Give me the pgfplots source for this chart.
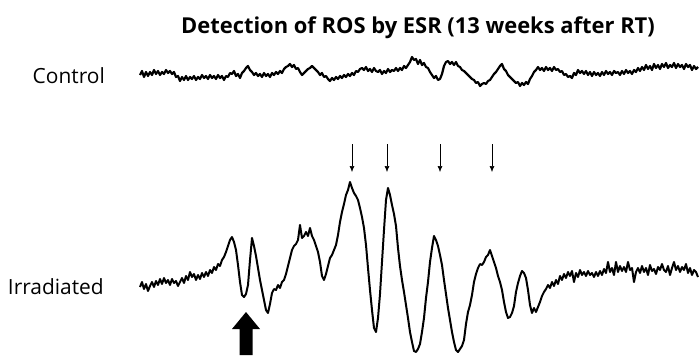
\documentclass[border=0pt]{standalone}
\usepackage{pgfplots}
\pgfplotsset{compat=1.18}
\usepackage{fontspec}
\setmainfont{Open Sans}
\usetikzlibrary{arrows.meta}
\begin{document}
\begin{tikzpicture}
\begin{axis}[scale only axis, width=700bp, height=359bp,
  xmin=0, xmax=700, ymin=0, ymax=359, y dir=reverse,
  hide axis, clip=false]
% Control trace
\addplot[black, line width=2.2pt, line join=round] coordinates {
(140,75)(142,71)(144,77)(146,72)(148,76)(150,72)(152,75)(154,70)(156,74)(158,71)(160,75)(162,72)(164,74)(166,70)(168,73)(170,71)(172,74)(174,72)(176,77)(178,76)(180,81)(182,77)(184,80)(186,76)(188,80)(190,77)(192,79)(194,76)(196,80)(198,77)(200,79)(202,75)(204,78)(206,76)(208,79)(210,75)(212,78)(214,76)(216,79)(218,75)(220,78)(222,76)(224,80)(226,76)(228,77)(230,73)(232,74)(234,71)(236,76)(238,74)(240,78)(242,73)(244,71)(246,68)(248,66)(250,70)(252,72)(254,75)(256,73)(258,76)(260,74)(262,77)(264,73)(266,76)(268,74)(270,77)(272,73)(274,75)(276,72)(278,74)(280,71)(282,73)(284,69)(286,67)(288,66)(290,64)(292,67)(294,65)(296,69)(298,68)(300,72)(302,75)(304,73)(306,71)(308,69)(310,68)(312,66)(314,68)(316,70)(318,72)(320,75)(322,73)(324,77)(326,76)(328,79)(330,81)(332,78)(334,80)(336,77)(338,79)(340,76)(342,78)(344,75)(346,77)(348,74)(350,76)(352,73)(354,75)(356,71)(358,72)(360,69)(362,68)(364,70)(366,67)(368,71)(370,69)(372,72)(374,68)(376,71)(378,72)(380,70)(382,74)(384,71)(386,73)(388,69)(390,72)(392,70)(394,71)(396,68)(398,71)(400,68)(402,70)(404,66)(406,68)(408,65)(410,62)(412,57)(414,60)(416,59)(418,64)(420,60)(422,65)(424,63)(426,67)(428,68)(430,72)(432,75)(434,78)(436,76)(438,80)(440,79)(442,74)(444,66)(446,62)(448,61)(450,64)(452,62)(454,65)(456,62)(458,66)(460,67)(462,70)(464,71)(466,73)(468,75)(470,77)(472,79)(474,80)(476,83)(478,82)(480,86)(482,84)(484,83)(486,84)(488,81)(490,80)(492,77)(494,74)(496,72)(498,69)(500,66)(502,64)(504,69)(506,71)(508,75)(510,77)(512,79)(514,81)(516,83)(518,82)(520,86)(522,83)(524,85)(526,82)(528,84)(530,79)(532,76)(534,72)(536,70)(538,67)(540,70)(542,68)(544,71)(546,67)(548,70)(550,68)(552,71)(554,67)(556,70)(558,69)(560,72)(562,71)(564,75)(566,74)(568,77)(570,76)(572,78)(574,73)(576,75)(578,70)(580,73)(582,71)(584,74)(586,71)(588,75)(590,72)(592,76)(594,72)(596,75)(598,73)(600,76)(602,72)(604,75)(606,71)(608,74)(610,72)(612,75)(614,71)(616,73)(618,72)(620,75)(622,71)(624,74)(626,70)(628,73)(630,71)(632,74)(634,70)(636,72)(638,68)(640,71)(642,67)(644,70)(646,65)(648,69)(650,66)(652,70)(654,64)(656,68)(658,65)(660,69)(662,64)(664,67)(666,63)(668,68)(670,65)(672,67)(674,63)(676,68)(678,64)(680,67)(682,65)(684,69)(686,64)(688,67)(690,65)(692,70)(694,66)(696,69)(698,67)
};
% Irradiated trace
\addplot[black, line width=2pt, line join=round] coordinates {
(140,287)(142,282)(144,289)(146,284)(148,291)(150,286)(152,282)(154,287)(156,281)(158,285)(160,279)(162,284)(164,278)(166,283)(168,280)(170,285)(172,279)(174,283)(176,281)(178,286)(180,282)(182,278)(184,283)(186,276)(188,280)(190,272)(192,277)(194,274)(196,280)(198,275)(200,279)(202,273)(204,277)(206,272)(208,276)(210,270)(212,273)(214,267)(216,270)(218,264)(220,266)(222,260)(224,257)(226,252)(228,246)(230,240)(232,237)(234,242)(236,250)(238,265)(240,282)(242,295)(244,297)(246,294)(248,285)(250,260)(252,238)(254,246)(256,256)(258,268)(260,280)(262,290)(264,300)(266,310)(268,313)(270,304)(272,293)(274,289)(276,290)(278,285)(280,288)(282,282)(284,280)(286,274)(288,266)(290,258)(292,250)(294,246)(296,244)(298,240)(300,225)(302,238)(304,236)(306,232)(308,236)(310,228)(312,236)(314,240)(316,246)(318,252)(320,262)(322,276)(324,280)(326,274)(328,266)(330,258)(332,255)(334,250)(336,245)(338,235)(340,222)(342,212)(344,204)(346,195)(348,190)(350,182)(352,188)(354,193)(356,196)(358,200)(360,208)(362,217)(364,228)(366,245)(368,268)(370,290)(372,310)(374,328)(376,332)(378,318)(380,294)(382,262)(384,230)(386,200)(388,188)(390,195)(392,205)(394,214)(396,226)(398,248)(400,266)(402,280)(404,292)(406,305)(408,318)(410,332)(412,342)(414,351)(416,352)(418,349)(420,344)(422,332)(424,318)(426,298)(428,282)(430,262)(432,248)(434,236)(436,240)(438,246)(440,255)(442,265)(444,280)(446,294)(448,308)(450,320)(452,332)(454,342)(456,350)(458,352)(460,349)(462,346)(464,340)(466,324)(468,312)(470,305)(472,295)(474,282)(476,274)(478,268)(480,264)(482,265)(484,262)(486,257)(488,255)(490,250)(492,256)(494,262)(496,268)(498,276)(500,282)(502,290)(504,302)(506,312)(508,318)(510,317)(512,313)(514,306)(516,292)(518,283)(520,276)(522,271)(524,273)(526,278)(528,290)(530,305)(532,313)(534,308)(536,312)(538,307)(540,302)(542,296)(544,292)(546,289)(548,285)(550,288)(552,282)(554,286)(556,280)(558,284)(560,276)(562,280)(564,274)(566,278)(568,272)(570,276)(572,271)(574,282)(576,273)(578,277)(580,270)(582,275)(584,272)(586,276)(588,271)(590,275)(592,273)(594,277)(596,272)(598,276)(600,271)(602,275)(604,269)(606,273)(608,262)(610,272)(612,268)(614,275)(616,262)(618,272)(620,266)(622,271)(624,267)(626,272)(628,262)(630,270)(632,268)(634,282)(636,272)(638,268)(640,273)(642,266)(644,272)(646,268)(648,275)(650,265)(652,271)(654,269)(656,274)(658,267)(660,270)(662,264)(664,270)(666,272)(668,266)(670,275)(672,268)(674,262)(676,270)(678,266)(680,272)(682,267)(684,270)(686,264)(688,273)(690,268)(692,275)(694,270)(696,272)(698,277)
};
% labels
\node[font=\bfseries\fontsize{22}{26}\selectfont, anchor=center] at (axis cs:418,28) {Detection of ROS by ESR (13 weeks after RT)};
\node[font=\fontsize{21}{24}\selectfont, anchor=east, inner sep=0pt] at (axis cs:105,76) {Control};
\node[font=\fontsize{21}{24}\selectfont, anchor=east, inner sep=0pt] at (axis cs:104,287) {Irradiated};
% small down arrows
\draw[black, line width=0.6pt, -{Latex[length=6pt,width=5pt]}] (axis cs:352,144) -- (axis cs:352,172);
\draw[black, line width=0.6pt, -{Latex[length=6pt,width=5pt]}] (axis cs:387,144) -- (axis cs:387,172);
\draw[black, line width=0.6pt, -{Latex[length=6pt,width=5pt]}] (axis cs:440,144) -- (axis cs:440,172);
\draw[black, line width=0.6pt, -{Latex[length=6pt,width=5pt]}] (axis cs:492,144) -- (axis cs:492,172);
% thick up arrow
\fill[black] (axis cs:239.5,355) -- (axis cs:239.5,329) -- (axis cs:232,329) -- (axis cs:246,312) -- (axis cs:260,329) -- (axis cs:252.5,329) -- (axis cs:252.5,355) -- cycle;
\end{axis}
\pgfresetboundingbox
\path[use as bounding box] (0,0) rectangle (700bp,359bp);
\end{tikzpicture}
\end{document}
